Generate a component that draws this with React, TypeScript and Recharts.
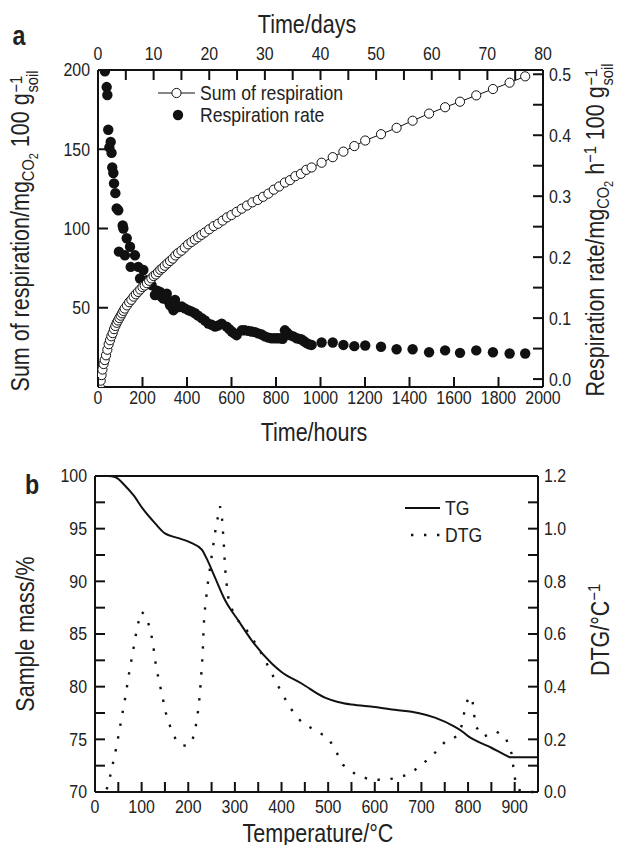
import React from 'react';
import { ComposedChart, XAxis, YAxis, Scatter, Line, Legend } from 'recharts';

const FONT = '"Liberation Sans", Arial, Helvetica, sans-serif';
const SX = 0.86;
const INK = '#222';

// ---------- Panel a data ----------
const sumHours = [8, 12, 16, 20, 25, 30, 36, 42, 48, 54, 60, 66, 72, 78, 84, 90, 96, 102, 108, 114, 120, 130, 140, 150, 160, 170, 180, 190, 200, 210, 220, 230, 240, 250, 260, 270, 280, 290, 300, 312, 324, 336, 348, 360, 375, 390, 405, 420, 435, 450, 465, 480, 500, 520, 540, 560, 580, 600, 623, 646, 670, 694, 718, 742, 766, 790, 814, 840, 863, 887, 912, 936, 960, 1005, 1055, 1103, 1152, 1201, 1272, 1342, 1414, 1488, 1560, 1627, 1700, 1775, 1850, 1920];
const sumValues = [0, 4, 7.5, 11, 14.5, 17, 20, 23.5, 27, 29.5, 32, 34, 36.5, 38.5, 40.5, 42, 43.5, 45, 46.5, 48, 49.5, 51.5, 53.5, 55, 57, 58.5, 60, 61.5, 63, 64, 65.5, 67, 68.5, 70, 71, 72.5, 74, 75, 76.5, 78, 79.5, 81, 83, 84.5, 86, 88, 90, 91.5, 93, 94.5, 96, 97.5, 99.5, 101.5, 103, 105, 107, 108.5, 110.5, 112.5, 114.5, 116.5, 118, 120, 122, 124.5, 126.5, 129, 130.5, 133, 134.5, 137, 138.5, 141.5, 145, 148.5, 152, 155.5, 159.5, 163.5, 168, 172.5, 176.5, 180, 184, 188, 192, 196];

const rateHours = [31, 39, 42, 46, 51, 57, 61, 64, 69, 72, 78, 84, 91, 94, 111, 114, 121, 129, 144, 147, 166, 181, 189, 204, 219, 230, 241, 256, 266, 279, 286, 294, 309, 316, 324, 331, 339, 346, 355, 365, 376, 390, 406, 420, 436, 450, 466, 481, 496, 511, 526, 541, 556, 578, 590, 601, 612, 623, 646, 660, 676, 690, 706, 720, 736, 750, 766, 780, 795, 808, 821, 830, 840, 850, 863, 878, 893, 905, 915, 926, 938, 949, 960, 1005, 1055, 1103, 1152, 1201, 1272, 1342, 1414, 1488, 1560, 1627, 1700, 1775, 1850, 1920];
const rateValues = [0.505, 0.479, 0.466, 0.409, 0.380, 0.389, 0.371, 0.347, 0.338, 0.321, 0.305, 0.280, 0.277, 0.209, 0.252, 0.247, 0.203, 0.231, 0.217, 0.184, 0.203, 0.184, 0.165, 0.179, 0.162, 0.160, 0.154, 0.138, 0.145, 0.143, 0.135, 0.132, 0.140, 0.128, 0.121, 0.125, 0.113, 0.130, 0.120, 0.118, 0.119, 0.116, 0.113, 0.111, 0.108, 0.104, 0.100, 0.096, 0.091, 0.089, 0.086, 0.088, 0.091, 0.086, 0.082, 0.078, 0.075, 0.072, 0.080, 0.080, 0.079, 0.078, 0.077, 0.075, 0.073, 0.070, 0.068, 0.067, 0.067, 0.067, 0.067, 0.066, 0.080, 0.076, 0.072, 0.070, 0.067, 0.066, 0.065, 0.062, 0.059, 0.057, 0.056, 0.060, 0.060, 0.056, 0.054, 0.055, 0.053, 0.049, 0.049, 0.044, 0.047, 0.043, 0.047, 0.044, 0.042, 0.042];

const hourTicks = [0, 200, 400, 600, 800, 1000, 1200, 1400, 1600, 1800, 2000];
const dayTicks = [0, 10, 20, 30, 40, 50, 60, 70, 80];
const dayMinorTicks = [5, 15, 25, 35, 45, 55, 65, 75];
const sumTicks = [50, 100, 150, 200];
const rateTicks = [0, 0.1, 0.2, 0.3, 0.4, 0.5];
const rateMinorTicks = [0.05, 0.15, 0.25, 0.35, 0.45];

// ---------- Panel b data ----------
const tgTemp = [0, 28, 43, 64, 82, 104, 129, 150, 179, 204, 229, 239, 257, 279, 307, 336, 379, 400, 443, 493, 521, 550, 600, 643, 693, 729, 771, 789, 800, 820, 850, 880, 890, 950];
const tgMass = [100, 100, 99.9, 99.1, 98.2, 96.8, 95.5, 94.55, 94.1, 93.7, 93.0, 92.2, 90.4, 88.2, 86.3, 84.4, 82.2, 81.4, 80.3, 78.96, 78.55, 78.3, 78.07, 77.8, 77.5, 77.06, 76.2, 75.7, 75.3, 74.8, 74.2, 73.5, 73.3, 73.3];

const dtgTemp = [25, 30, 35, 41, 47, 52, 57, 62, 67, 71, 76, 81, 86, 91, 99, 106, 113, 120, 125, 129, 134, 140, 146, 152, 161, 173, 185, 197, 207, 213, 218, 222, 225, 227, 229, 231, 232, 233, 235, 238, 241, 245, 249, 253, 257, 262, 268, 272, 274, 276, 277.5, 279, 282, 285, 292, 305, 325, 342, 359, 375, 389, 404, 420, 443, 471, 500, 516, 532, 559, 588, 616, 644, 674, 702, 729, 754, 775, 786, 795, 802, 809, 816, 833, 846, 860, 880, 893, 901, 908, 925, 945];
const dtgValue = [0.01, 0.04, 0.08, 0.13, 0.18, 0.23, 0.28, 0.33, 0.38, 0.43, 0.48, 0.53, 0.58, 0.63, 0.685, 0.675, 0.65, 0.605, 0.555, 0.50, 0.45, 0.40, 0.35, 0.30, 0.25, 0.20, 0.178, 0.175, 0.19, 0.22, 0.27, 0.32, 0.375, 0.425, 0.475, 0.53, 0.58, 0.63, 0.68, 0.73, 0.78, 0.83, 0.88, 0.93, 0.98, 1.03, 1.085, 1.05, 1.0, 0.95, 0.9, 0.85, 0.795, 0.745, 0.70, 0.655, 0.615, 0.57, 0.52, 0.465, 0.415, 0.365, 0.316, 0.265, 0.235, 0.206, 0.157, 0.103, 0.067, 0.048, 0.046, 0.052, 0.068, 0.105, 0.149, 0.197, 0.21, 0.25, 0.33, 0.362, 0.355, 0.25, 0.21, 0.22, 0.23, 0.21, 0.148, 0.046, 0.008, 0.0, 0.0];

const tempTicks = [0, 100, 200, 300, 400, 500, 600, 700, 800, 900];
const tempMinorTicks = [50, 150, 250, 350, 450, 550, 650, 750, 850];
const massTicks = [70, 75, 80, 85, 90, 95, 100];
const massMinorTicks = [72.5, 77.5, 82.5, 87.5, 92.5, 97.5];
const dtgTicks = [0, 0.2, 0.4, 0.6, 0.8, 1.0, 1.2];
const dtgMinorTicks = [0.1, 0.3, 0.5, 0.7, 0.9, 1.1];

const sumData = sumHours.map((h, i) => ({ x: h, y: sumValues[i] }));
const rateData = rateHours.map((h, i) => ({ x: h, y: rateValues[i] }));
const tgData = tgTemp.map((t, i) => ({ x: t, y: tgMass[i] }));
const dtgData = dtgTemp.map((t, i) => ({ x: t, y: dtgValue[i] }));

const merge = (a: number[], b: number[]) => [...a, ...b].sort((p, q) => p - q);

type Side = 'top' | 'bottom' | 'left' | 'right';

const TICK_LEN = 10;

// tick renderer: inward tick mark plus the label for major values
function makeTick(side: Side, majors: number[], fmt: ((v: number) => string) | null, gap: number) {
  return (props: any) => {
    const x = Number(props.x);
    const y = Number(props.y);
    const v = Number(props.payload.value);
    const isMajor = majors.some((m) => Math.abs(m - v) < 1e-6);
    const len = TICK_LEN;
    let d = '';
    if (side === 'bottom') d = `M${x},${y}L${x},${y - len}`;
    else if (side === 'top') d = `M${x},${y}L${x},${y + len}`;
    else if (side === 'left') d = `M${x},${y}L${x + len},${y}`;
    else d = `M${x},${y}L${x - len},${y}`;
    let label: any = null;
    if (isMajor && fmt) {
      let tx = x;
      let ty = y;
      let anchor = 'middle';
      if (side === 'bottom') ty = y + gap;
      else if (side === 'top') ty = y - gap;
      else if (side === 'left') { tx = x - gap; anchor = 'end'; }
      else { tx = x + gap; anchor = 'start'; }
      label = (
        <text
          transform={`translate(${tx},${ty}) scale(${SX},1)`}
          textAnchor={anchor}
          dominantBaseline="central"
          fontSize={18.5}
          fontFamily={FONT}
          fill={INK}
        >
          {fmt(v)}
        </text>
      );
    }
    return (
      <g>
        <path d={d} stroke="#111" strokeWidth={2} fill="none" />
        {label}
      </g>
    );
  };
}

const axisLine = { stroke: '#111', strokeWidth: 2 };
const intFmt = (v: number) => String(v);
const oneDec = (v: number) => v.toFixed(1);

const axisA = {
  type: 'number' as const,
  interval: 0 as const,
  allowDataOverflow: true,
  axisLine,
  tickLine: false,
  tickSize: 0,
  tickMargin: 0,
};
const axisB = {
  type: 'number' as const,
  interval: 0 as const,
  axisLine,
  tickLine: false,
  tickSize: 0,
  tickMargin: 0,
};

const OpenCircle = (props: any) => (
  <circle cx={props.cx} cy={props.cy} r={4.6} fill="#fff" stroke="#111" strokeWidth={1} />
);
const FilledCircle = (props: any) => (
  <circle cx={props.cx} cy={props.cy} r={5.2} fill="#111" stroke="none" />
);

const txt = (x: number, y: number, s: string, size = 20.5) => (
  <text transform={`translate(${x},${y}) scale(${SX},1)`} dominantBaseline="central" fontSize={size} fontFamily={FONT} fill={INK}>
    {s}
  </text>
);

const LegendA = () => (
  <svg width={230} height={50} style={{ display: 'block', overflow: 'visible' }}>
    <line x1={0} y1={11} x2={37} y2={11} stroke="#111" strokeWidth={1.2} />
    <circle cx={18.5} cy={11} r={4.6} fill="#fff" stroke="#111" strokeWidth={1} />
    {txt(42, 11, 'Sum of respiration')}
    <circle cx={20} cy={33} r={5.2} fill="#111" />
    {txt(42, 33, 'Respiration rate')}
  </svg>
);

const LegendB = () => (
  <svg width={110} height={50} style={{ display: 'block', overflow: 'visible' }}>
    <line x1={0} y1={10} x2={35} y2={10} stroke="#111" strokeWidth={2} />
    {txt(40, 10, 'TG')}
    <line x1={6} y1={37} x2={35} y2={37} stroke="#111" strokeWidth={2.4} strokeDasharray="2.4 10.6" />
    {txt(40, 37, 'DTG')}
  </svg>
);

const abs = (x: number, y: number, rotate = false): React.CSSProperties => ({
  position: 'absolute',
  left: x,
  top: y,
  transform: `translate(-50%,-50%)${rotate ? ' rotate(-90deg)' : ''} scaleX(${SX})`,
  whiteSpace: 'nowrap',
  fontFamily: FONT,
  fontSize: 25,
  lineHeight: 1,
  color: INK,
});

const subStyle: React.CSSProperties = { fontSize: '0.68em', verticalAlign: '-0.32em', lineHeight: 0 };
const subSubStyle: React.CSSProperties = { fontSize: '0.75em', verticalAlign: '-0.3em', lineHeight: 0 };

const CO2 = () => (
  <span style={subStyle}>
    CO<span style={subSubStyle}>2</span>
  </span>
);
const SupSub = ({ sup, sub }: { sup: string; sub: string }) => (
  <span
    style={{
      display: 'inline-flex',
      flexDirection: 'column',
      fontSize: '0.68em',
      lineHeight: 0.95,
      verticalAlign: '0.42em',
      marginLeft: 1,
    }}
  >
    <span>{sup}</span>
    <span>{sub}</span>
  </span>
);
const Sup = ({ s }: { s: string }) => (
  <span style={{ fontSize: '0.68em', verticalAlign: '0.5em', lineHeight: 0 }}>{s}</span>
);

export default function App() {
  return (
    <div style={{ position: 'absolute', left: 0, top: 0, width: 622, height: 845, background: '#fff', overflow: 'hidden' }}>
      {/* Panel a */}
      <div style={{ position: 'absolute', left: 0, top: 0 }}>
        <ComposedChart width={622} height={440} margin={{ top: 40, right: 29, bottom: 23, left: 48 }}>
          <XAxis
            {...axisA}
            xAxisId="h"
            dataKey="x"
            domain={[0, 2000]}
            ticks={hourTicks}
            orientation="bottom"
            height={30}
            tick={makeTick('bottom', hourTicks, intFmt, 11)}
          />
          <XAxis
            {...axisA}
            xAxisId="d"
            dataKey="x"
            domain={[0, 80]}
            ticks={merge(dayTicks, dayMinorTicks)}
            orientation="top"
            height={30}
            tick={makeTick('top', dayTicks, intFmt, 16)}
          />
          <YAxis
            {...axisA}
            yAxisId="sum"
            dataKey="y"
            domain={[0, 200]}
            ticks={sumTicks}
            orientation="left"
            width={50}
            tick={makeTick('left', sumTicks, intFmt, 8)}
          />
          <YAxis
            {...axisA}
            yAxisId="rate"
            dataKey="y"
            domain={[-0.013, 0.507]}
            ticks={merge(rateTicks, rateMinorTicks)}
            orientation="right"
            width={50}
            tick={makeTick('right', rateTicks, oneDec, 6)}
          />
          <Scatter
            name="Respiration rate"
            xAxisId="h"
            yAxisId="rate"
            data={rateData}
            dataKey="y"
            shape={FilledCircle}
            isAnimationActive={false}
          />
          <Scatter
            name="Sum of respiration"
            xAxisId="h"
            yAxisId="sum"
            data={sumData}
            dataKey="y"
            line={{ stroke: '#111', strokeWidth: 1 }}
            shape={OpenCircle}
            isAnimationActive={false}
          />
          <Legend
            layout="horizontal"
            verticalAlign="middle"
            align="center"
            content={() => <LegendA />}
            wrapperStyle={{ left: 158, top: 82, width: 230, height: 50 }}
          />
        </ComposedChart>
      </div>

      {/* Panel b */}
      <div style={{ position: 'absolute', left: 0, top: 440 }}>
        <ComposedChart width={622} height={405} margin={{ top: 26, right: 34, bottom: 23, left: 45 }}>
          <XAxis
            {...axisB}
            xAxisId="t"
            dataKey="x"
            domain={[0, 950]}
            ticks={merge(tempTicks, tempMinorTicks)}
            orientation="bottom"
            height={30}
            tick={makeTick('bottom', tempTicks, intFmt, 15)}
          />
          <XAxis
            {...axisB}
            xAxisId="tt"
            dataKey="x"
            domain={[0, 950]}
            ticks={tempTicks}
            orientation="top"
            height={10}
            tick={makeTick('top', tempTicks, null, 0)}
          />
          <YAxis
            {...axisB}
            yAxisId="m"
            dataKey="y"
            domain={[70, 100]}
            ticks={merge(massTicks, massMinorTicks)}
            orientation="left"
            width={50}
            tick={makeTick('left', massTicks, intFmt, 8)}
          />
          <YAxis
            {...axisB}
            yAxisId="d"
            dataKey="y"
            domain={[0, 1.2]}
            ticks={merge(dtgTicks, dtgMinorTicks)}
            orientation="right"
            width={50}
            tick={makeTick('right', dtgTicks, oneDec, 6)}
          />
          <Line
            name="TG"
            xAxisId="t"
            yAxisId="m"
            data={tgData}
            dataKey="y"
            type="monotone"
            stroke="#111"
            strokeWidth={2}
            dot={false}
            isAnimationActive={false}
          />
          <Line
            name="DTG"
            xAxisId="t"
            yAxisId="d"
            data={dtgData}
            dataKey="y"
            type="linear"
            stroke="#111"
            strokeWidth={2.4}
            strokeDasharray="2.4 10.6"
            dot={false}
            isAnimationActive={false}
          />
          <Legend
            layout="horizontal"
            verticalAlign="middle"
            align="center"
            content={() => <LegendB />}
            wrapperStyle={{ left: 405, top: 58, width: 110, height: 50 }}
          />
        </ComposedChart>
      </div>

      {/* Titles */}
      <div style={{ ...abs(19, 36), fontWeight: 'bold', fontSize: 27 }}>a</div>
      <div style={{ ...abs(32, 485), fontWeight: 'bold', fontSize: 27 }}>b</div>
      <div style={abs(307, 24)}>Time/days</div>
      <div style={abs(314, 432)}>Time/hours</div>
      <div style={abs(318, 833)}>Temperature/°C</div>
      <div style={abs(25, 231, true)}>
        Sum of respiration/mg<CO2 /> 100 g<SupSub sup="−1" sub="soil" />
      </div>
      <div style={abs(600, 230, true)}>
        Respiration rate/mg<CO2 /> h<Sup s="−1" /> 100 g<SupSub sup="−1" sub="soil" />
      </div>
      <div style={abs(25, 634, true)}>Sample mass/%</div>
      <div style={abs(600, 630, true)}>
        DTG/°C<Sup s="−1" />
      </div>
    </div>
  );
}
